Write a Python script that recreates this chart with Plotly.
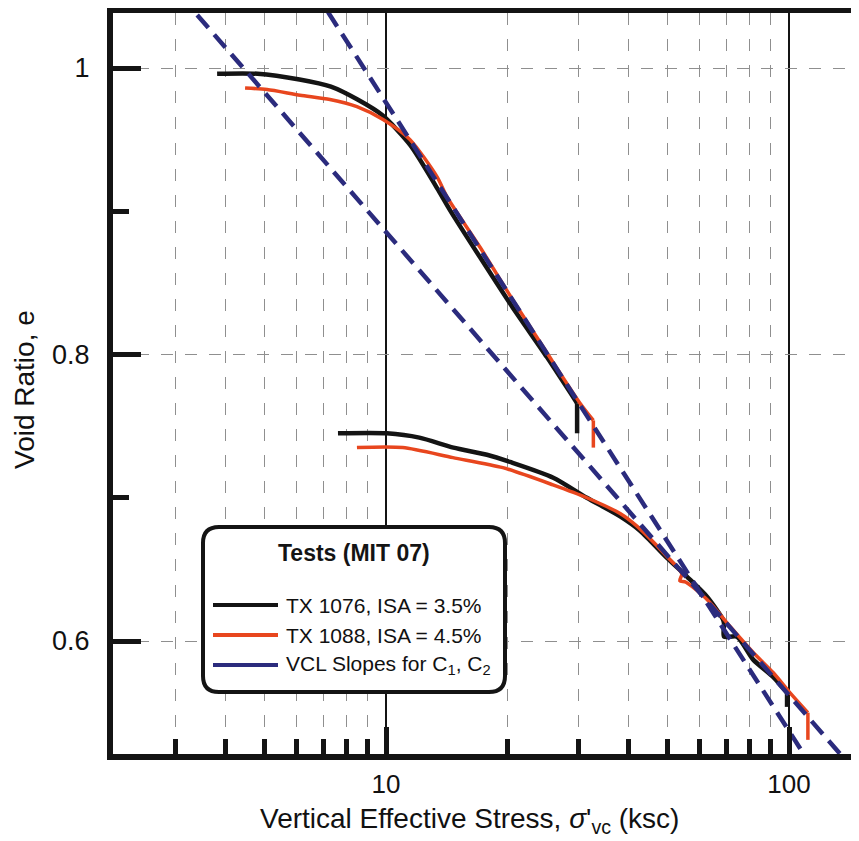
import numpy as np
import plotly.graph_objects as go

# ---------------- data ----------------
tx1076_load_x = [3.81, 4.8, 6.1, 7.3, 8.5, 9.8, 11.5, 13.4, 14.4, 17.1, 20.6, 25.1, 29.8, 29.8]
tx1076_load_e = [0.996, 0.996, 0.992, 0.987, 0.978, 0.967, 0.946, 0.916, 0.901, 0.868, 0.833, 0.798, 0.766, 0.745]

tx1088_load_x = [4.47, 5.07, 6.12, 7.26, 8.47, 9.83, 11.47, 13.39, 14.17, 17.1, 20.65, 25.1, 30.3, 32.7, 32.7]
tx1088_load_e = [0.986, 0.985, 0.981, 0.978, 0.973, 0.964, 0.950, 0.924, 0.910, 0.875, 0.838, 0.801, 0.766, 0.754, 0.735]

tx1076_reload_x = [7.6, 10.05, 12.1, 14.7, 17.8, 20.3, 26.0, 31.5, 38.1, 42.7, 49.8, 55.8, 62.6, 68.6, 69.0, 69.0, 74.3, 81.5, 91.3, 98.9, 98.9]
tx1076_reload_e = [0.745, 0.745, 0.742, 0.735, 0.730, 0.725, 0.714, 0.700, 0.687, 0.677, 0.658, 0.645, 0.631, 0.615, 0.612, 0.603, 0.603, 0.587, 0.575, 0.564, 0.554]

tx1088_reload_x = [8.47, 11.0, 14.66, 19.5, 25.96, 31.5, 38.1, 42.0, 49.8, 54.2, 53.6, 55.5, 62.6, 71.5, 81.5, 91.3, 100.5, 111.4, 111.4]
tx1088_reload_e = [0.735, 0.735, 0.728, 0.721, 0.709, 0.700, 0.689, 0.680, 0.659, 0.647, 0.642, 0.641, 0.629, 0.610, 0.592, 0.578, 0.564, 0.550, 0.531]

vcl_c1_x = [3.40, 136.0]
vcl_c1_e = [1.037, 0.519]
vcl_c2_x = [7.18, 110.0]
vcl_c2_e = [1.039, 0.519]

x_major_ticks = [10, 100]
x_major_labels = ["10", "100"]
x_minor_ticks = [3, 4, 5, 6, 7, 8, 9, 20, 30, 40, 50, 60, 70, 80, 90]
y_major_ticks = [0.6, 0.8, 1.0]
y_major_labels = ["0.6", "0.8", "1"]
y_minor_ticks = [0.7, 0.9]

legend_title = "<b>Tests (MIT 07)</b>"
legend_labels = ["TX 1076, ISA = 3.5%", "TX 1088, ISA = 4.5%", "VCL Slopes for C<sub>1</sub>, C<sub>2</sub>"]

# ---------------- styling ----------------
BLACK = "#141414"
RED = "#E8461E"
NAVY = "#2B2B7D"
GRID = "#8f8f8f"
TXT = "#111111"
FONT = "Arial, Liberation Sans, sans-serif"

# page body adds an 8px margin; plotly draws axis lines half a line-width outside the plot area
OFF = 8
W, H = 859 - OFF, 841 - OFF
PX_LEFT, PX_RIGHT, PX_TOP, PX_BOT = 113, 854, 13, 754     # inner plot area, page pixels
L, T = PX_LEFT - OFF, PX_TOP - OFF
R, B = W - (PX_RIGHT - OFF), H - (PX_BOT - OFF)
PW, PH = PX_RIGHT - PX_LEFT, PX_BOT - PX_TOP

def px2paper(px, py):
    return (px - PX_LEFT) / PW, (PX_BOT - py) / PH

fig = go.Figure()

for xs, es, col, wd in [
    (tx1076_load_x, tx1076_load_e, BLACK, 4.5),
    (tx1076_reload_x, tx1076_reload_e, BLACK, 4.5),
    (tx1088_load_x, tx1088_load_e, RED, 3.5),
    (tx1088_reload_x, tx1088_reload_e, RED, 3.5),
]:
    # smooth compression curve, then the straight end-of-increment drop
    fig.add_trace(go.Scatter(x=xs[:-1], y=es[:-1], mode="lines", showlegend=False,
                             line=dict(color=col, width=wd, shape="spline", smoothing=0.7),
                             hoverinfo="skip"))
    fig.add_trace(go.Scatter(x=xs[-2:], y=es[-2:], mode="lines", showlegend=False,
                             line=dict(color=col, width=wd), hoverinfo="skip"))

for xs, es in [(vcl_c1_x, vcl_c1_e), (vcl_c2_x, vcl_c2_e)]:
    fig.add_trace(go.Scatter(x=xs, y=es, mode="lines", showlegend=False,
                             line=dict(color=NAVY, width=4.5, dash="17px,9px"), hoverinfo="skip"))

# axis mapping measured on the reference: 10 -> x=386, 100 -> x=789; e=1 -> y=68, e=0.6 -> y=641
DEC = 403.0
EPX = 1432.5
x_left = 1 - (386 - PX_LEFT) / DEC
x_right = x_left + PW / DEC
y_top = 1 + (68 - PX_TOP) / EPX
y_bot = 0.6 - (PX_BOT - 641) / EPX

fig.update_xaxes(
    type="log", range=[x_left, x_right], automargin=False,
    tickmode="array", tickvals=x_major_ticks, ticktext=x_major_labels,
    ticks="inside", ticklen=27, tickwidth=5, tickcolor=BLACK,
    showgrid=True, gridcolor=BLACK, gridwidth=1.5,
    minor=dict(tickmode="array", tickvals=x_minor_ticks, ticks="inside", ticklen=15,
               tickwidth=5, tickcolor=BLACK, showgrid=True, gridcolor=GRID,
               gridwidth=1, griddash="12px,14px"),
    showline=True, linewidth=6, linecolor=BLACK, mirror=True, zeroline=False,
    tickfont=dict(family=FONT, size=26, color=TXT), ticklabelstandoff=2,
)
fig.update_yaxes(
    range=[y_bot, y_top], automargin=False,
    tickmode="array", tickvals=y_major_ticks, ticktext=y_major_labels,
    ticks="inside", ticklen=28, tickwidth=5, tickcolor=BLACK,
    showgrid=True, gridcolor=GRID, gridwidth=1, griddash="12px,12px",
    minor=dict(tickmode="array", tickvals=y_minor_ticks, ticks="inside", ticklen=16,
               tickwidth=5, tickcolor=BLACK, showgrid=False),
    showline=True, linewidth=6, linecolor=BLACK, mirror=True, zeroline=False,
    tickfont=dict(family=FONT, size=27, color=TXT), ticklabelstandoff=12,
)

# ---------------- legend box (rounded) ----------------
bx0, by0, bx1, by1, rr = 203, 527, 505, 692, 16
x0, y0 = px2paper(bx0, by0)
x1, y1 = px2paper(bx1, by1)
r = rr / PW
path = (f"M {x0 + r},{y0} L {x1 - r},{y0} Q {x1},{y0} {x1},{y0 - r} "
        f"L {x1},{y1 + r} Q {x1},{y1} {x1 - r},{y1} "
        f"L {x0 + r},{y1} Q {x0},{y1} {x0},{y1 + r} "
        f"L {x0},{y0 - r} Q {x0},{y0} {x0 + r},{y0} Z")
shapes = [dict(type="path", path=path, xref="paper", yref="paper", layer="above",
               fillcolor="white", line=dict(color=BLACK, width=4))]

annotations = []
tx, ty = px2paper(354, 553)
annotations.append(dict(text=legend_title, x=tx, y=ty, xref="paper", yref="paper",
                        showarrow=False, xanchor="center", yanchor="middle",
                        font=dict(family=FONT, size=23, color=BLACK)))
for lab, col, py in zip(legend_labels, [BLACK, RED, NAVY], [605, 635, 665]):
    lx0, ly = px2paper(213, py)
    lx1, _ = px2paper(278, py)
    shapes.append(dict(type="line", x0=lx0, x1=lx1, y0=ly, y1=ly, xref="paper", yref="paper",
                       layer="above", line=dict(color=col, width=4)))
    ax, ay = px2paper(284, py)
    annotations.append(dict(text=lab, x=ax, y=ay, xref="paper", yref="paper",
                            showarrow=False, xanchor="left", yanchor="middle",
                            font=dict(family=FONT, size=21, color=TXT)))

# axis titles
ax_, ay_ = px2paper(469, 820)
annotations.append(dict(text="Vertical Effective Stress, <i>σ</i>'<sub>vc</sub> (ksc)",
                        x=ax_, y=ay_, xref="paper", yref="paper", showarrow=False,
                        xanchor="center", yanchor="middle",
                        font=dict(family=FONT, size=28, color=TXT)))
ax_, ay_ = px2paper(24, 390)
annotations.append(dict(text="Void Ratio, e", x=ax_, y=ay_, xref="paper", yref="paper",
                        showarrow=False, xanchor="center", yanchor="middle", textangle=-90,
                        font=dict(family=FONT, size=28, color=TXT)))

fig.update_layout(
    width=W, height=H, margin=dict(l=L, r=R, t=T, b=B, autoexpand=False),
    paper_bgcolor="white", plot_bgcolor="white",
    shapes=shapes, annotations=annotations, showlegend=False,
)

fig.write_html("out.html")
